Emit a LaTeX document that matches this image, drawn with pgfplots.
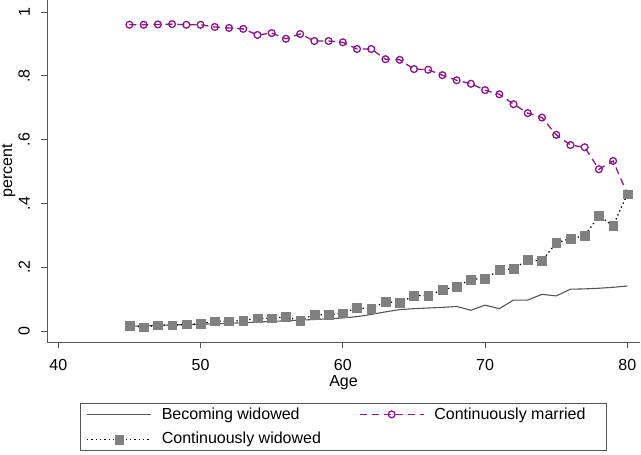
\documentclass[border=0pt]{standalone}
\usepackage{pgfplots}
\pgfplotsset{compat=1.18}
\usepackage{pgfplotstable}
\usepackage{graphicx}
\usetikzlibrary{calc}
\usepackage{fontspec}
\setmainfont{Liberation Sans}
\definecolor{marpurple}{RGB}{140,20,140}
\definecolor{sqgray}{RGB}{128,128,128}
\definecolor{axgray}{RGB}{85,85,85}

\pgfplotstableread{
age becoming married widowed
45 0.015 0.960 0.017
46 0.016 0.960 0.012
47 0.018 0.961 0.018
48 0.019 0.962 0.018
49 0.020 0.960 0.021
50 0.021 0.960 0.023
51 0.023 0.953 0.031
52 0.024 0.950 0.031
53 0.026 0.947 0.033
54 0.028 0.928 0.040
55 0.030 0.934 0.040
56 0.032 0.916 0.044
57 0.034 0.931 0.033
58 0.036 0.909 0.052
59 0.038 0.909 0.050
60 0.041 0.905 0.056
61 0.045 0.884 0.072
62 0.052 0.884 0.070
63 0.060 0.852 0.092
64 0.067 0.850 0.088
65 0.070 0.821 0.111
66 0.072 0.819 0.111
67 0.074 0.802 0.129
68 0.077 0.786 0.139
69 0.065 0.775 0.162
70 0.081 0.755 0.164
71 0.070 0.742 0.191
72 0.097 0.711 0.195
73 0.097 0.683 0.223
74 0.115 0.669 0.220
75 0.110 0.615 0.276
76 0.131 0.583 0.290
77 0.132 0.576 0.298
78 0.134 0.507 0.361
79 0.137 0.533 0.330
80 0.141 0.430 0.429
}\agedata

\begin{document}
\fontsize{16bp}{19bp}\selectfont
\begin{tikzpicture}
\begin{axis}[
    name=ax,
    scale only axis,
    width=593bp, height=342bp,
    xmin=39.206, xmax=80.89,
    ymin=-0.0345, ymax=1.0376,
    axis x line=bottom, axis y line=left,
    axis line style={axgray, line width=0.8bp, -},
    tick style={axgray, line width=0.8bp},
    tick align=outside,
    major tick length=6bp,
    xtick={40,50,60,70,80},
    xticklabels={40,50,60,70,80},
    ytick={0,0.2,0.4,0.6,0.8,1},
    yticklabels={\rotatebox{90}{0},\rotatebox{90}{.2},\rotatebox{90}{.4},
                 \rotatebox{90}{.6},\rotatebox{90}{.8},\rotatebox{90}{1}},
    yticklabel style={anchor=east, inner sep=0pt, xshift=-11bp},
    xticklabel style={anchor=north, inner sep=0pt},
    xticklabel shift=11bp,
    xlabel={Age},
    ylabel={percent},
    xlabel style={at={(axis description cs:0.5,0)}, anchor=north, yshift=-33bp, inner sep=0pt},
    ylabel style={at={(axis description cs:-0.053,0.5)}, anchor=south, inner sep=0pt},
    legend columns=2,
    legend cell align=left,
    legend style={at={(axis description cs:0.5,-0.1784)}, anchor=north, draw=axgray, line width=0.8bp,
        inner xsep=6bp, inner ysep=4bp, row sep=10.9bp,
        /tikz/every odd column/.append style={column sep=10bp},
        /tikz/every even column/.append style={column sep=38bp},
        nodes={inner sep=0pt, anchor=west}},
    legend image code/.code={
        \draw[mark repeat=2, mark phase=2] plot coordinates {(0bp,0bp) (32bp,0bp) (64bp,0bp)};
    },
]
\addplot[axgray, line width=1.1bp] table[x=age, y=becoming] {\agedata};
\addlegendentry{Becoming widowed}
\addplot[marpurple, line width=1.3bp, dash pattern=on 7bp off 5bp,
    mark=o, mark size=3.4bp, mark options={solid, line width=1.3bp, fill=white}]
    table[x=age, y=married] {\agedata};
\addlegendentry{Continuously married\hspace*{15bp}}
\addplot[black, line width=1.3bp, dash pattern=on 1.3bp off 3bp,
    mark=square*, mark size=4.4bp, mark options={solid, draw=sqgray, fill=sqgray, line width=0.4bp}]
    table[x=age, y=widowed] {\agedata};
\addlegendentry{Continuously widowed}
\end{axis}
\pgfresetboundingbox
\useasboundingbox ($(ax.south west)+(-47bp,-113bp)$) rectangle ++(641bp,455bp);
\end{tikzpicture}
\end{document}
